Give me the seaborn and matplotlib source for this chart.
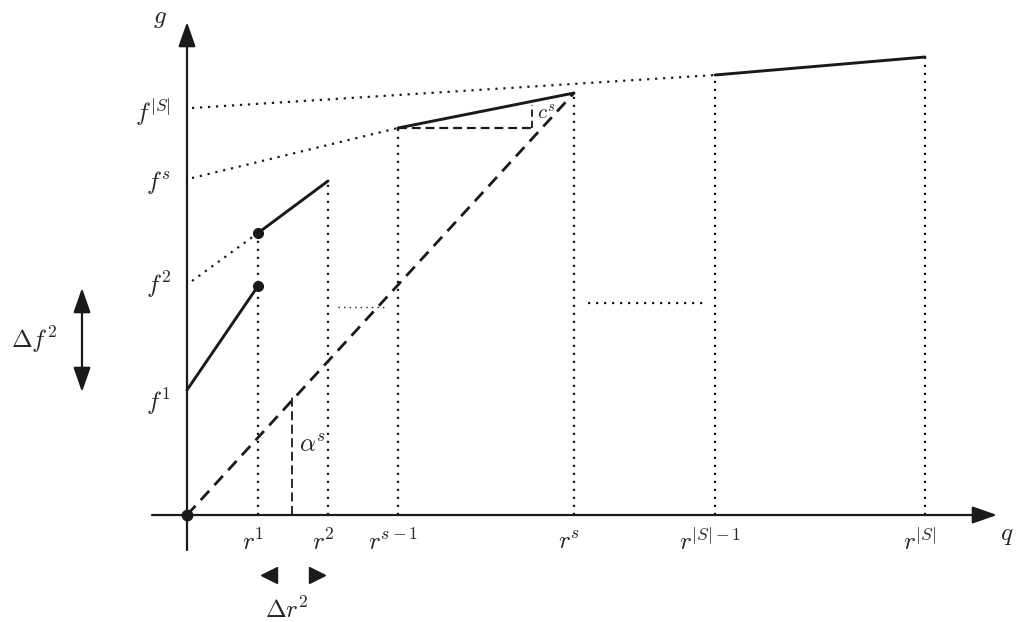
import matplotlib
matplotlib.use("Agg")
import matplotlib.pyplot as plt
import seaborn as sns
import pandas as pd

# Données du schéma (unités = pixels relatifs à l'origine)
r_pos = [71, 141, 211, 387, 528, 738]
r_labels = [r"$r^1$", r"$r^2$", r"$r^{s-1}$", r"$r^s$", r"$r^{|S|-1}$", r"$r^{|S|}$"]
r_tops = [282, 334, 387, 422, 440, 458]

f_levels = [125, 234, 337, 407]
f_labels = [r"$f^1$", r"$f^2$", r"$f^s$", r"$f^{|S|}$"]

# Segments linéaires par morceaux
seg_x0 = [0, 71, 211, 528]
seg_x1 = [71, 141, 387, 738]
seg_g0 = [125, 282, 387, 440]
seg_g1 = [229, 334, 422, 458]

# Petites lignes horizontales pointillées
hdot_y = [208, 212]
hdot_x0 = [151, 401]
hdot_x1 = [198, 518]

alpha_x = 105
alpha_top = 118
c_corner = 345
c_top = 410

sns.set_theme(style="white")
plt.rcParams["mathtext.fontset"] = "cm"

fig = plt.figure(figsize=(10.18, 6.22), dpi=100)
ax = fig.add_axes([0, 0, 1, 1])
ax.set_xlim(-187, 831)
ax.set_ylim(-107, 515)
ax.axis("off")

dot = (0, (1, 2.6))
dlw = 1.6

# Axes avec flèches
ax.annotate("", xy=(0, 493), xytext=(0, -35),
            arrowprops=dict(arrowstyle="-|>,head_length=1.0,head_width=0.35",
                            lw=1.6, color="k", mutation_scale=15, shrinkA=0, shrinkB=0))
ax.annotate("", xy=(810, 0), xytext=(-35, 0),
            arrowprops=dict(arrowstyle="-|>,head_length=1.0,head_width=0.35",
                            lw=1.6, color="k", mutation_scale=15, shrinkA=0, shrinkB=0))

# Segments pleins
for i in range(len(seg_x0)):
    seg = pd.DataFrame({"q": [seg_x0[i], seg_x1[i]], "g": [seg_g0[i], seg_g1[i]]})
    sns.lineplot(data=seg, x="q", y="g", ax=ax, color="k", lw=2.1, sort=False)

# Prolongements pointillés depuis l'axe g
for k in range(1, len(f_levels)):
    ax.plot([5, seg_x0[k]], [f_levels[k], seg_g0[k]], color="k", lw=dlw, ls=dot)

# Verticales pointillées
for x, top in zip(r_pos, r_tops):
    ax.plot([x, x], [0, top], color="k", lw=dlw, ls=dot)

# Horizontales pointillées
for y, x0, x1 in zip(hdot_y, hdot_x0, hdot_x1):
    ax.plot([x0, x1], [y, y], color="k", lw=1.0 if x0 < 300 else dlw,
            ls=(0, (1, 3)) if x0 < 300 else dot)

# Droite tiretée depuis l'origine
ax.plot([0, r_pos[3]], [0, r_tops[3]], color="k", lw=2.0, ls=(0, (4.5, 2.8)))
ax.plot([alpha_x, alpha_x], [0, alpha_top], color="k", lw=1.3, ls=(0, (5, 2.5)))
ax.plot([r_pos[2], c_corner], [seg_g0[2], seg_g0[2]], color="k", lw=1.6, ls=(0, (4, 2.2)))
ax.plot([c_corner, c_corner], [seg_g0[2], c_top], color="k", lw=1.3, ls=(0, (4, 2.2)))

# Points
ax.plot([0], [0], "ko", ms=7.5)
ax.plot([r_pos[0], r_pos[0]], [seg_g1[0], seg_g0[1]], "ko", ls="none", ms=7)

fs = 18
for y, lab in zip(f_levels, f_labels):
    ax.text(-16, y - 12 if y < 200 else y - 4, lab, ha="right", va="center", fontsize=fs)
for x, lab in zip(r_pos, r_labels):
    ax.text(x - 5, -27, lab, ha="center", va="center", fontsize=fs)

ax.text(-27, 497, r"$g$", ha="center", va="center", fontsize=fs)
ax.text(813, -20, r"$q$", ha="left", va="center", fontsize=fs)
ax.text(126, 70, r"$\alpha^s$", ha="center", va="center", fontsize=fs)
ax.text(359, 402, r"$c^s$", ha="center", va="center", fontsize=15)

# Delta f^2
ax.annotate("", xy=(-105, 227), xytext=(-105, 123),
            arrowprops=dict(arrowstyle="<|-|>,head_length=1.0,head_width=0.35",
                            lw=1.6, color="k", mutation_scale=15, shrinkA=0, shrinkB=0))
ax.text(-153, 175, r"$\Delta f^2$", ha="center", va="center", fontsize=fs)

# Delta r^2
ax.plot([82], [-60], marker="<", color="k", ms=12, ls="none")
ax.plot([130], [-60], marker=">", color="k", ms=12, ls="none")
ax.text(100, -95, r"$\Delta r^2$", ha="center", va="center", fontsize=fs)

fig.savefig("out.png", dpi=100)
